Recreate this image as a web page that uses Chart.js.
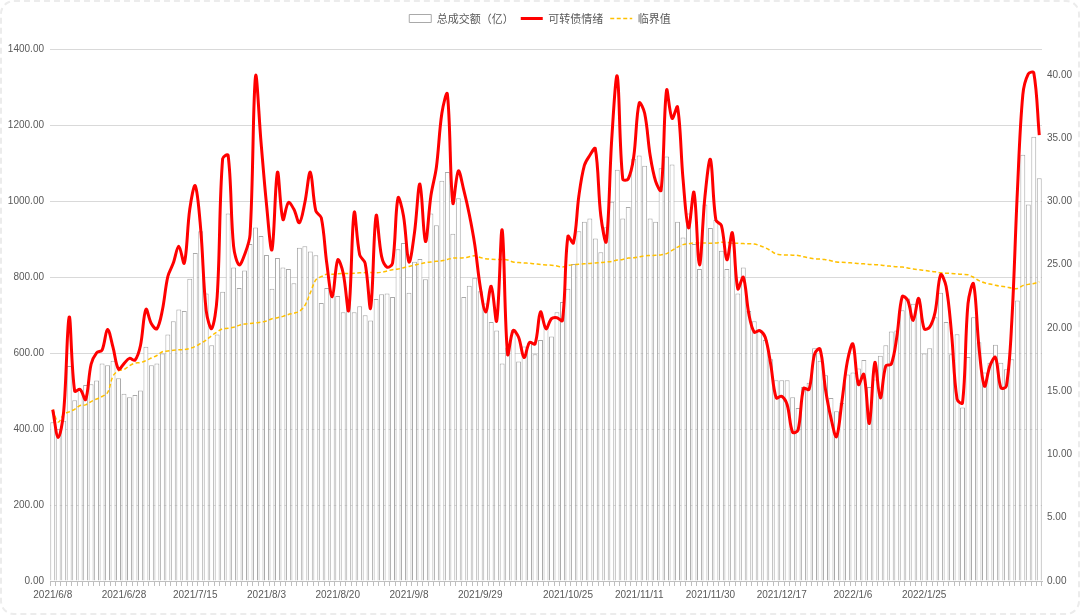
<!DOCTYPE html>
<html>
<head>
<meta charset="utf-8">
<script src="https://cdn.jsdelivr.net/npm/chart.js@4.4.1/dist/chart.umd.min.js"></script>
<style>
  html, body { margin: 0; padding: 0; background: #ffffff; }
  #wrap { position: relative; width: 1080px; height: 615px; }
  #c { position: absolute; left: 0; top: 0; }
  #frame { position: absolute; left: 0; top: 0; width: 1080px; height: 615px; box-sizing: border-box;
           border: 2px dashed #ececec; border-radius: 14px; pointer-events: none; }
</style>
</head>
<body>
<div id="wrap">
  <canvas id="c" width="1080" height="615"></canvas>
  <div id="frame"></div>
</div>
<script>
// ---- categories (trading dates) ----
const dates = [
  '2021/6/8','2021/6/9','2021/6/10','2021/6/11','2021/6/15','2021/6/16','2021/6/17','2021/6/18','2021/6/21','2021/6/22','2021/6/23','2021/6/24','2021/6/25','2021/6/28','2021/6/29','2021/6/30',
  '2021/7/1','2021/7/2','2021/7/5','2021/7/6','2021/7/7','2021/7/8','2021/7/9','2021/7/12','2021/7/13','2021/7/14','2021/7/15','2021/7/16','2021/7/19','2021/7/20','2021/7/21','2021/7/22','2021/7/23','2021/7/26','2021/7/27','2021/7/28','2021/7/29','2021/7/30',
  '2021/8/2','2021/8/3','2021/8/4','2021/8/5','2021/8/6','2021/8/9','2021/8/10','2021/8/11','2021/8/12','2021/8/13','2021/8/16','2021/8/17','2021/8/18','2021/8/19','2021/8/20','2021/8/23','2021/8/24','2021/8/25','2021/8/26','2021/8/27','2021/8/30','2021/8/31',
  '2021/9/1','2021/9/2','2021/9/3','2021/9/6','2021/9/7','2021/9/8','2021/9/9','2021/9/10','2021/9/13','2021/9/14','2021/9/15','2021/9/16','2021/9/17','2021/9/22','2021/9/23','2021/9/24','2021/9/27','2021/9/28','2021/9/29','2021/9/30',
  '2021/10/8','2021/10/9','2021/10/11','2021/10/12','2021/10/13','2021/10/14','2021/10/15','2021/10/16','2021/10/18','2021/10/19','2021/10/20','2021/10/21','2021/10/22','2021/10/23','2021/10/25','2021/10/26','2021/10/27','2021/10/28','2021/10/29',
  '2021/11/1','2021/11/2','2021/11/3','2021/11/4','2021/11/5','2021/11/8','2021/11/9','2021/11/10','2021/11/11','2021/11/12','2021/11/15','2021/11/16','2021/11/17','2021/11/18','2021/11/19','2021/11/22','2021/11/23','2021/11/24','2021/11/25','2021/11/26','2021/11/29','2021/11/30',
  '2021/12/1','2021/12/2','2021/12/3','2021/12/6','2021/12/7','2021/12/8','2021/12/9','2021/12/10','2021/12/13','2021/12/14','2021/12/15','2021/12/16','2021/12/17','2021/12/20','2021/12/21','2021/12/22','2021/12/23','2021/12/24','2021/12/27','2021/12/28','2021/12/29','2021/12/30','2021/12/31',
  '2022/1/4','2022/1/5','2022/1/6','2022/1/7','2022/1/10','2022/1/11','2022/1/12','2022/1/13','2022/1/14','2022/1/17','2022/1/18','2022/1/19','2022/1/20','2022/1/21','2022/1/24','2022/1/25','2022/1/26','2022/1/27','2022/1/28',
  '2022/2/7','2022/2/8','2022/2/9','2022/2/10','2022/2/11','2022/2/14','2022/2/15','2022/2/16','2022/2/17','2022/2/18','2022/2/21','2022/2/22','2022/2/23','2022/2/24','2022/2/25','2022/2/28',
  '2022/3/1','2022/3/2'
];

// x-axis labels that are printed
const shownLabels = ['2021/6/8','2021/6/28','2021/7/15','2021/8/3','2021/8/20','2021/9/8','2021/9/29',
  '2021/10/25','2021/11/11','2021/11/30','2021/12/17','2022/1/6','2022/1/25'];

// ---- series: 总成交额（亿）(left axis) ----
const turnover = [
  418,400,422,566,476,504,516,518,528,573,568,580,534,493,484,490,502,617,568,573,599,649,684,715,711,796,864,921,757,621,
  649,762,968,826,772,818,888,931,909,859,770,851,826,822,784,878,882,868,858,732,772,757,751,708,735,708,724,700,686,743,
  755,757,748,874,890,759,841,848,795,968,937,1054,1077,915,1008,748,778,799,763,731,682,660,573,615,662,578,618,628,597,635,
  670,644,708,735,770,835,921,946,955,902,866,932,999,1083,955,985,1112,1121,1094,955,946,1087,1118,1097,946,905,968,888,822,992,
  930,951,870,822,890,757,826,711,684,662,635,584,529,529,529,484,456,511,522,613,580,542,482,447,469,544,549,560,582,511,
  531,593,621,657,660,713,744,730,744,599,613,695,759,682,597,650,457,590,695,629,549,575,622,575,558,584,739,1123,992,1170,1061
];

// ---- series: 可转债情绪 (right axis) ----
const sentiment = [
  13.54,11.33,13.41,20.86,15.01,15.14,14.34,17.13,18.03,18.25,19.88,18.46,16.74,17.18,17.59,17.45,18.59,21.47,20.32,19.93,21.39,24.06,25.12,26.45,25.12,29.37,31.24,27.78,21.36,19.95,
  22.46,33.37,33.64,26.45,24.98,25.78,27.38,39.89,34.70,29.78,26.18,32.30,28.57,29.91,29.37,28.31,29.91,32.30,29.24,28.70,25.11,22.46,25.38,24.32,21.39,29.11,25.78,25.11,21.57,28.86,
  25.65,24.80,25.11,30.27,28.85,25.21,27.51,31.37,26.83,30.44,32.70,36.96,38.48,29.87,32.40,30.88,28.98,26.58,23.26,21.26,23.29,20.55,27.74,17.92,19.79,19.26,17.66,18.86,18.73,21.26,
  19.93,20.73,20.81,20.59,27.24,26.71,30.44,32.84,33.64,34.16,28.86,26.83,34.96,39.89,31.77,31.77,33.50,37.77,36.96,33.64,31.59,30.88,38.78,36.55,37.46,31.77,27.91,30.71,24.98,30.38,
  33.31,28.52,28.10,25.38,27.51,23.09,24.01,21.12,19.66,19.79,19.26,17.13,14.47,14.60,13.93,11.75,11.95,15.22,15.14,17.93,18.33,15.14,12.87,11.41,14.21,17.39,18.73,15.53,16.33,12.45,
  17.26,14.47,17.00,17.13,19.26,22.48,22.17,20.59,22.33,19.93,20.06,21.25,24.20,23.29,19.53,14.38,14.07,21.92,23.49,18.46,15.40,17.00,17.67,15.27,15.40,20.59,30.71,38.42,40.07,40.16,35.24
];

// ---- series: 临界值 (right axis) ----
const threshold = [
  13.54,12.56,13.16,13.37,13.57,13.87,13.92,14.18,14.38,14.58,14.88,16.20,16.61,16.71,17.01,17.21,17.26,17.42,17.62,17.82,18.12,18.17,18.23,18.28,18.28,18.38,18.53,18.78,19.04,19.39,
  19.69,19.93,19.97,20.05,20.20,20.30,20.35,20.40,20.45,20.55,20.73,20.81,20.91,21.06,21.16,21.31,21.77,22.78,23.79,24.05,24.25,24.24,24.28,24.30,24.30,24.32,24.35,24.37,24.37,24.35,
  24.40,24.50,24.60,24.65,24.76,24.86,24.96,25.06,25.16,25.21,25.26,25.31,25.41,25.52,25.52,25.54,25.62,25.70,25.57,25.46,25.43,25.41,25.41,25.36,25.21,25.16,25.13,25.11,25.06,25.01,
  24.98,24.96,24.89,24.81,24.93,24.99,25.03,25.06,25.09,25.13,25.16,25.21,25.26,25.36,25.41,25.52,25.54,25.62,25.70,25.72,25.74,25.77,25.87,26.12,26.38,26.58,26.65,26.71,26.71,26.71,
  26.68,26.71,26.77,26.75,26.71,26.69,26.66,26.65,26.63,26.50,26.33,26.10,25.84,25.78,25.76,25.75,25.73,25.62,25.54,25.46,25.45,25.39,25.31,25.21,25.19,25.16,25.13,25.09,25.06,25.01,
  25.00,24.97,24.91,24.87,24.83,24.81,24.74,24.66,24.60,24.55,24.48,24.43,24.35,24.32,24.30,24.26,24.23,24.20,24.00,23.74,23.57,23.47,23.37,23.29,23.24,23.14,23.11,23.34,23.44,23.51,23.64
];

// ---- axis ticks ----
const leftTicks = [0, 200, 400, 600, 800, 1000, 1200, 1400];
const rightTicks = [0, 5, 10, 15, 20, 25, 30, 35, 40];
const rightMax = 42;

const seriesNames = ['总成交额（亿）', '可转债情绪', '临界值'];

const TXT = '#595959';
const FONT = "'Liberation Sans', 'Noto Sans CJK SC', sans-serif";

const legendGap = {
  id: 'legendGap',
  beforeInit(chart) {
    const orig = chart.legend.fit;
    chart.legend.fit = function () { orig.call(this); this.height += 15.5; };
  }
};

new Chart(document.getElementById('c'), {
  type: 'bar',
  data: {
    labels: dates,
    datasets: [
      {
        type: 'bar', label: seriesNames[0], data: turnover, yAxisID: 'y', order: 2,
        backgroundColor: '#ffffff', borderColor: '#a9a9a9', borderWidth: 1,
        categoryPercentage: 1.0, barPercentage: 0.9
      },
      {
        type: 'line', label: seriesNames[1], data: sentiment, yAxisID: 'y1', order: 0,
        borderColor: '#ff0000', backgroundColor: '#ff0000', borderWidth: 3,
        pointRadius: 0, tension: 0.35, fill: false
      },
      {
        type: 'line', label: seriesNames[2], data: threshold, yAxisID: 'y1', order: 1,
        borderColor: '#ffc000', backgroundColor: '#ffc000', borderWidth: 1.5, borderDash: [4, 2.5],
        pointRadius: 0, tension: 0.35, fill: false
      }
    ]
  },
  plugins: [legendGap],
  options: {
    responsive: false,
    animation: false,
    devicePixelRatio: 1,
    layout: { padding: { top: 6, left: 0, right: 0, bottom: 0 } },
    plugins: {
      tooltip: { enabled: false },
      legend: {
        position: 'top',
        align: 'center',
        labels: {
          color: TXT,
          font: { family: "'Noto Sans CJK SC', sans-serif", size: 11 },
          usePointStyle: true,
          pointStyleWidth: 22,
          boxHeight: 8,
          padding: 7,
          sort: (a, b) => a.datasetIndex - b.datasetIndex,
          generateLabels(chart) {
            const items = Chart.defaults.plugins.legend.labels.generateLabels(chart);
            items.forEach(it => {
              const ds = chart.data.datasets[it.datasetIndex];
              if (ds.type === 'bar') {
                it.pointStyle = 'rect'; it.fillStyle = '#ffffff'; it.strokeStyle = '#a9a9a9'; it.lineWidth = 1; it.lineDash = [];
              } else {
                it.pointStyle = 'line'; it.strokeStyle = ds.borderColor; it.lineWidth = ds.borderWidth;
                it.lineDash = ds.borderDash || [];
              }
            });
            return items;
          }
        }
      }
    },
    scales: {
      x: {
        offset: true,
        grid: { display: true, drawOnChartArea: false, drawTicks: true, tickLength: 5, color: '#bfbfbf', offset: true },
        border: { display: true, color: '#bfbfbf' },
        ticks: {
          autoSkip: false, maxRotation: 0, minRotation: 0, padding: 3,
          color: TXT, font: { family: FONT, size: 10 },
          callback: function (value) {
            const lab = this.getLabelForValue(value);
            return shownLabels.includes(lab) ? lab : '';
          }
        },
        afterFit(axis) { axis.height = 34; }
      },
      y: {
        position: 'left', min: leftTicks[0], max: leftTicks[leftTicks.length - 1],
        grid: { color: '#d9d9d9', drawTicks: false },
        border: { display: false },
        afterBuildTicks(axis) { axis.ticks = leftTicks.map(v => ({ value: v })); },
        ticks: { padding: 6, color: TXT, font: { family: FONT, size: 10 }, callback: v => Number(v).toFixed(2) },
        afterFit(axis) { axis.width = 50; }
      },
      y1: {
        position: 'right', min: 0, max: rightMax,
        grid: { display: false, drawTicks: false },
        border: { display: false },
        afterBuildTicks(axis) { axis.ticks = rightTicks.map(v => ({ value: v })); },
        ticks: { padding: 5, color: TXT, font: { family: FONT, size: 10 }, callback: v => Number(v).toFixed(2) },
        afterFit(axis) { axis.width = 38; }
      }
    }
  }
});
</script>
</body>
</html>
